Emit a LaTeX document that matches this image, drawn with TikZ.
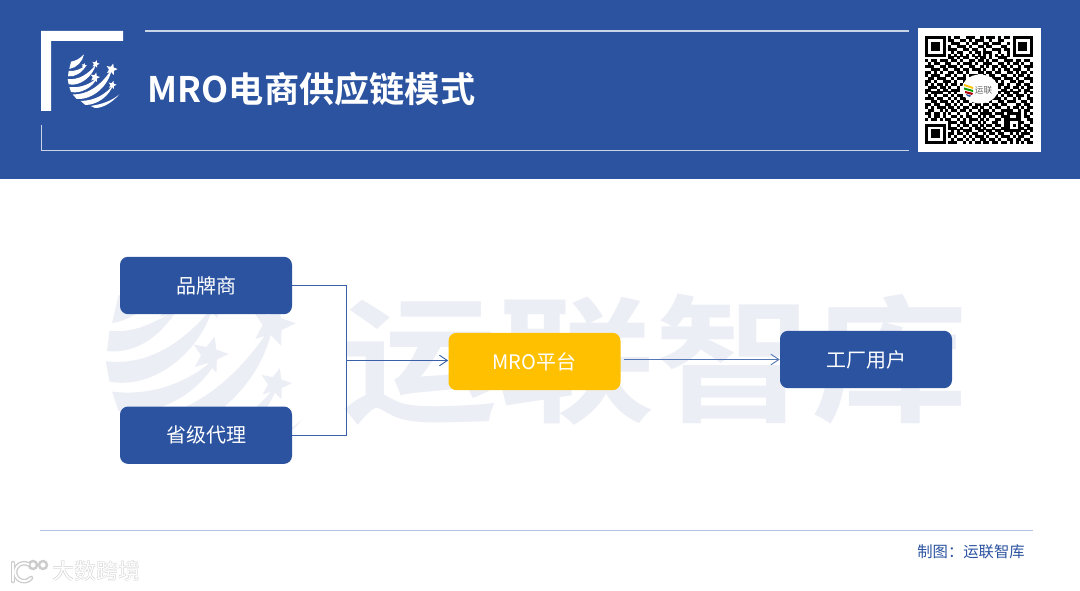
\documentclass[tikz,border=0pt]{standalone}
\usepackage{fontspec}
\usetikzlibrary{arrows.meta}
\newfontfamily\cjk{Noto Sans CJK SC}
\newfontfamily\cjkb{Noto Sans CJK SC Bold}
\definecolor{hdr}{HTML}{2B53A0}
\definecolor{wmk}{HTML}{ECEEF6}
\definecolor{amber}{HTML}{FFC000}
\definecolor{lnk}{HTML}{3A61A8}
\definecolor{lnkb}{HTML}{5577B5}
\definecolor{thinl}{HTML}{C9D4E8}
\definecolor{rulec}{HTML}{AFC3E0}
\newcommand\lgstar[3]{\fill plot[samples at={0,36,...,324},variable=\a] ({#1+#3*(mod(\a,72)==0?1:0.45)*sin(\a+15)},{#2-#3*(mod(\a,72)==0?1:0.45)*cos(\a+15)}) -- cycle;}
\tikzset{
  flowbox/.style={rounded corners=6pt,minimum width=129pt,minimum height=43pt,inner sep=0pt,font=\cjk\fontsize{15}{15}\selectfont},
  bluebox/.style={flowbox,fill=hdr,text=white},
  amberbox/.style={flowbox,fill=amber,text=white},
  link/.style={draw=lnk,line width=0.75pt},
  arrowlink/.style={link,-{Straight Barb[length=6pt,width=8pt,line width=0.7pt]}},
  logomark/.pic={
    \fill (33,50) .. controls (48,48) and (60,40) .. (72,28) .. controls (68,50) and (50,68) .. (28,72) -- cycle;
    \fill (26,78) .. controls (45,80) and (62,72) .. (80,60) .. controls (65,85) and (45,96) .. (24,94) -- cycle;
    \fill (23,102) .. controls (55,106) and (85,88) .. (108,58) .. controls (98,95) and (60,125) .. (26,118) -- cycle;
    \fill (28,126) .. controls (60,130) and (92,118) .. (114,95) .. controls (98,130) and (60,147) .. (33,141) -- cycle;
    \fill (38,148) .. controls (90,150) and (130,112) .. (155,72) .. controls (148,120) and (100,165) .. (50,162) -- cycle;
    \fill (62,168) .. controls (105,167) and (138,148) .. (160,118) .. controls (148,155) and (110,180) .. (76,180) -- cycle;
    \fill (92,183) .. controls (125,178) and (155,168) .. (178,148) .. controls (155,175) and (125,190) .. (105,189) -- cycle;
    \lgstar{107}{57}{12}\lgstar{155}{73}{18}\lgstar{105}{97}{15}\lgstar{157}{120}{13}\lgstar{72}{62}{8}
  }
}
\newcount\qrx
\def\qrscan#1{\ifx#1\relax\else\ifx#11\fill ({925+2.92*\the\qrx},{36+2.92*(\y-1)}) rectangle ++(3.02,3.02);\fi\advance\qrx by 1 \expandafter\qrscan\fi}
\begin{document}
\begin{tikzpicture}[x=0.75pt,y=-0.75pt]
\useasboundingbox (0,0) rectangle (1080,591);
\fill[white] (0,0) rectangle (1080,591);
% watermark
\begin{scope}
\clip (0,180) rectangle (1080,450);
\pic[wmk,fill=wmk,scale=1.267] at (76.6,232) {logomark};
\end{scope}
\node[text=wmk,inner sep=0pt,xscale=1.14,transform shape,font=\cjkb\fontsize{103}{103}\selectfont] (wmtext) at (655,360) {运联智库};
% header
\fill[hdr] (0,0) rectangle (1080,179);
\fill[white] (41,31) -- (123,31) -- (123,41) -- (51,41) -- (51,111) -- (41,111) -- cycle;
\draw[thinl,line width=1pt] (145,31) -- (909,31);
\draw[thinl,line width=0.9pt] (41.5,125) -- (41.5,150.5) -- (909,150.5);
\pic[white,fill=white,scale=0.3333] at (60,45) {logomark};
\node[text=white,inner sep=0pt,anchor=west,font=\cjkb\fontsize{26.4}{26.4}\selectfont] (title) at (147.5,89) {MRO电商供应链模式};
% qr
\fill[white] (918,28) rectangle (1041,152);
\foreach \rw [count=\y] in {
1111111010110011100101110101101111111,
1000001011001101011100100110001000001,
1011101001110010110011011100101011101,
1011101010011101001101100011001011101,
1011101011100110110010011101101011101,
1000001001011001011011100100101000001,
1111111010101010101010101010101111111,
0000000011010110010110100111000000000,
1011011101101001101101011001110110110,
0101100110010111010011100110101101001,
1110011011101001100101011011010010111,
0011101100110110111010010101101110010,
1101010011011010001101101100110101101,
1011100110100101110010110011001011010,
0110111001011100000000011101110100111,
1101001110100100000000001010011011001,
1010110101101000000000000110100110110,
0111011010010000000000000101101101011,
1100101101110000000000000011010010110,
1011110010100000000000000101101100101,
0101001101011000000000001010110111010,
1110110010101100000000011101001010011,
0011011101010110100110100110111001101,
1101100110101001011011011011000110110,
1010111011010110110100101100101101011,
0110010101101101001011010011110010110,
1101101010010010110111101110111110101,
0101101001101011001010110011100110110,
1011010110010101110101001101111110011,
0000000011101101001010011001100011001,
1111111010010110110101101101101010110,
1000001011101001011010010011100011011,
1011101001010111001101101101111110101,
1011101011011010110010110110010101110,
1011101010100101011101001011101011001,
1000001001011010100110110100110110110,
1111111011100101011011011011010101011}
{\qrx=0 \expandafter\qrscan\rw\relax}
\fill[white] (980,89) ellipse (18 and 14.5);
\fill[amber] (964,84) -- (973,87) -- (973,89) -- (964,86) -- cycle;
\fill[green!60!black] (964,87.5) -- (973,90) -- (973,92) -- (964,89.5) -- cycle;
\fill[red!70!black] (965,91) -- (973,93) -- (972,95) -- (965,93) -- cycle;
\fill[hdr] (966,94) -- (971,95.5) -- (970,97) -- (967,96) -- cycle;
\node[text=black!60,inner sep=0pt,font=\cjk\fontsize{6.5}{6.5}\selectfont] (qrname) at (983.5,90) {运联};
% flow
\node[bluebox] (brand) at (206,285.5) {品牌商};
\node[bluebox] (agent) at (206,435.2) {省级代理};
\node[amberbox] (mro) at (534.5,361.5) {MRO平台};
\node[bluebox] (user) at (866,359.5) {工厂用户};
\coordinate (jn) at (346.5,360.5);
\coordinate (mroin) at (mro.west |- jn);
\coordinate (mroout) at (624,359.5);
\draw[link] (brand.east) -| (jn);
\draw[link] (agent.east) -| (jn);
\draw[arrowlink] (jn) -- (mroin);
\draw[arrowlink,draw=lnkb,line width=1.1pt] (mroout) -- (user.west);
% footer
\draw[rulec,line width=0.8pt] (40,530.5) -- (1033,530.5);
\node[text=hdr,inner sep=0pt,font=\cjk\fontsize{11.5}{11.5}\selectfont] (credit) at (971,552) {制图：运联智库};
% stamp
\node[text=black!20,inner sep=0pt,font=\cjkb\fontsize{16.5}{16.5}\selectfont] (stampb) at (96.5,571.5) {大数跨境};
\node[text=white,inner sep=0pt,font=\cjk\fontsize{16.5}{16.5}\selectfont] (stamp) at (96,571) {大数跨境};
\draw[black!20,line width=3.4pt,line cap=round] (13,563) -- (13,581);
\draw[black!20,line width=3.4pt,line cap=round] (31,578) arc (40:300:9);
\draw[black!20,line width=1.8pt] (33,565) circle (4) (43,565) circle (4);
\draw[white,line width=1.4pt,line cap=round] (13,563) -- (13,581);
\draw[white,line width=1.4pt,line cap=round] (31,578) arc (40:300:9);
\end{tikzpicture}
\end{document}
